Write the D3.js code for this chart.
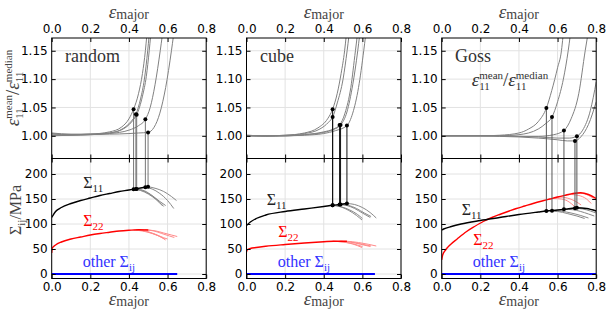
<!DOCTYPE html>
<html>
<head>
<meta charset="utf-8">
<script src="https://cdn.jsdelivr.net/npm/d3@7"></script>
<style>
  body { margin: 0; background: #fff; }
</style>
</head>
<body>
<div id="chart"></div>
<script>
// values
var panelNames = ["random", "cube", "Goss"];
var xTicks = [0, 0.2, 0.4, 0.6, 0.8];
var ratioTicks = [1.00, 1.05, 1.10, 1.15];
var stressTicks = [0, 50, 100, 150, 200];

// eps11 mean/median vs eps_major, one curve per sample
var ratioRandom = [
  [[0,1.004],[0.1,1.002],[0.2,1.003],[0.3,1.007],[0.36,1.015],[0.4,1.03],[0.424,1.047],[0.45,1.075],[0.47,1.11],[0.485,1.15],[0.492,1.175]],
  [[0,1.001],[0.1,1.001],[0.2,1.002],[0.3,1.005],[0.37,1.013],[0.41,1.025],[0.436,1.038],[0.46,1.065],[0.48,1.1],[0.497,1.15],[0.504,1.175]],
  [[0,1.003],[0.1,1.002],[0.2,1.003],[0.3,1.005],[0.38,1.014],[0.42,1.027],[0.44,1.037],[0.47,1.07],[0.49,1.105],[0.505,1.15],[0.512,1.175]],
  [[0,1.000],[0.1,1.001],[0.2,1.002],[0.3,1.004],[0.4,1.01],[0.45,1.018],[0.485,1.029],[0.51,1.05],[0.535,1.09],[0.562,1.15],[0.572,1.175]],
  [[0,1.005],[0.1,1.003],[0.2,1.003],[0.3,1.003],[0.4,1.004],[0.45,1.005],[0.499,1.006],[0.53,1.015],[0.56,1.04],[0.59,1.085],[0.62,1.15],[0.63,1.175]]
];
var ratioCube = [
  [[0,1.001],[0.1,1.0],[0.2,1.001],[0.3,1.005],[0.37,1.014],[0.42,1.03],[0.446,1.047],[0.47,1.075],[0.49,1.11],[0.508,1.15],[0.516,1.175]],
  [[0,1.001],[0.1,1.0],[0.2,1.001],[0.3,1.004],[0.38,1.012],[0.425,1.024],[0.446,1.033],[0.47,1.058],[0.5,1.1],[0.521,1.15],[0.53,1.175]],
  [[0,1.0],[0.1,1.0],[0.2,1.0],[0.3,1.002],[0.4,1.007],[0.45,1.012],[0.482,1.019],[0.51,1.04],[0.54,1.085],[0.564,1.15],[0.573,1.175]],
  [[0,1.0],[0.1,1.0],[0.2,1.0],[0.3,1.002],[0.4,1.006],[0.45,1.011],[0.487,1.019],[0.52,1.042],[0.55,1.09],[0.576,1.15],[0.585,1.175]],
  [[0,1.0],[0.1,0.999],[0.2,1.0],[0.3,1.001],[0.4,1.004],[0.46,1.009],[0.52,1.018],[0.55,1.04],[0.58,1.085],[0.607,1.15],[0.616,1.175]]
];
var ratioGoss = [
  [[0,1.0],[0.1,1.0],[0.2,1.0],[0.3,1.001],[0.4,1.005],[0.45,1.012],[0.5,1.025],[0.542,1.049],[0.57,1.08],[0.6,1.12],[0.62,1.15],[0.628,1.175]],
  [[0,1.0],[0.1,1.0],[0.2,1.0],[0.3,1.0],[0.4,1.002],[0.5,1.012],[0.54,1.022],[0.571,1.033],[0.6,1.06],[0.63,1.1],[0.655,1.15],[0.665,1.175]],
  [[0,1.0],[0.2,1.0],[0.3,1.0],[0.4,0.999],[0.5,0.999],[0.58,1.002],[0.633,1.0095],[0.67,1.03],[0.71,1.075],[0.743,1.15],[0.755,1.175]],
  [[0,1.0],[0.2,1.0],[0.3,0.999],[0.4,0.998],[0.5,0.996],[0.6,0.993],[0.65,0.991],[0.69,0.991],[0.72,0.998],[0.76,1.02],[0.8,1.06]],
  [[0,1.0],[0.2,1.0],[0.3,1.0],[0.4,0.999],[0.5,0.998],[0.6,0.996],[0.66,0.996],[0.7,0.9993],[0.73,1.01],[0.77,1.045],[0.8,1.095]]
];

// failure points (dots joined by the vertical lines)
var failEpsRandom = [0.424, 0.436, 0.44, 0.485, 0.499];
var failRatioRandom = [1.047, 1.038, 1.037, 1.029, 1.006];
var failStressRandom = [169.5, 170, 170, 173.5, 174.5];
var failEpsCube = [0.446, 0.446, 0.482, 0.487, 0.52];
var failRatioCube = [1.047, 1.033, 1.019, 1.019, 1.018];
var failStressCube = [137.5, 137.5, 139, 139, 141];
var failEpsGoss = [0.542, 0.571, 0.633, 0.69, 0.70];
var failRatioGoss = [1.049, 1.033, 1.0095, 0.991, 0.9993];
var failStressGoss = [126, 126.5, 129.5, 131.5, 132.5];

// Sigma_11 (MPa)
var s11Random = [[0,113],[0.02,125],[0.05,133],[0.1,141],[0.15,147],[0.2,152],[0.25,157],[0.3,161],[0.35,165],[0.4,168],[0.43,170],[0.46,172],[0.5,174.5]];
var s11BranchRandom = [
  [[0.424,169.5],[0.46,167],[0.5,160],[0.54,149],[0.575,136]],
  [[0.436,170],[0.47,167],[0.51,159],[0.55,147],[0.58,135]],
  [[0.44,170],[0.48,166.5],[0.52,157],[0.56,145],[0.59,137]],
  [[0.485,173.5],[0.52,170],[0.56,161],[0.6,147],[0.632,131]],
  [[0.499,174.5],[0.54,171],[0.58,165],[0.62,155],[0.646,147]]
];
var s11Cube = [[0,97],[0.02,104],[0.05,111],[0.1,118],[0.2,125],[0.3,130],[0.4,135],[0.446,137.5],[0.48,139],[0.52,141]];
var s11BranchCube = [
  [[0.446,137.5],[0.49,134],[0.53,127],[0.57,117],[0.598,108]],
  [[0.446,137.5],[0.49,134.5],[0.535,128],[0.575,119],[0.6,111]],
  [[0.482,139],[0.52,137],[0.56,131],[0.6,122],[0.641,113]],
  [[0.487,139],[0.53,137],[0.57,131],[0.61,122],[0.645,115]],
  [[0.52,141],[0.56,139],[0.6,133],[0.64,123],[0.672,112]]
];
var s11Goss = [[0,88],[0.01,90],[0.05,95],[0.1,100],[0.2,107],[0.3,113],[0.4,119],[0.5,124],[0.542,126],[0.6,128],[0.65,130],[0.7,132.5],[0.75,131],[0.8,126]];
var s11BranchGoss = [
  [[0.542,126],[0.6,125],[0.65,121],[0.7,116],[0.74,111]],
  [[0.571,126.5],[0.62,125.5],[0.67,122],[0.72,117],[0.76,112]],
  [[0.633,129.5],[0.68,128.5],[0.72,125],[0.76,120],[0.79,116]],
  [[0.69,131.5],[0.73,130],[0.77,126],[0.8,122]]
];

// Sigma_22 (MPa)
var s22Random = [[0,42],[0.003,52],[0.02,58],[0.05,64],[0.1,70],[0.15,74],[0.2,78],[0.25,81],[0.3,83.5],[0.35,86],[0.4,87.5],[0.45,88.5],[0.5,88]];
var s22BranchRandom = [
  [[0.424,88],[0.47,86],[0.52,81],[0.56,75],[0.585,70]],
  [[0.436,88.5],[0.48,86],[0.53,80],[0.57,73],[0.59,68]],
  [[0.44,88.5],[0.49,85.5],[0.54,79],[0.58,72.5],[0.6,70]],
  [[0.485,88.5],[0.53,86],[0.57,81],[0.61,76],[0.635,73]],
  [[0.499,88],[0.54,86],[0.58,82],[0.62,78],[0.65,75]]
];
var s22Cube = [[0,44],[0.003,48],[0.02,51],[0.05,53],[0.1,55.5],[0.2,59],[0.3,62],[0.4,64.5],[0.45,65.5],[0.52,65.5]];
var s22BranchCube = [
  [[0.446,65.5],[0.5,64],[0.55,60],[0.598,53]],
  [[0.446,65.5],[0.5,64],[0.55,60.5],[0.6,55]],
  [[0.482,65.5],[0.54,63.5],[0.59,59.5],[0.641,55]],
  [[0.487,65.5],[0.54,64],[0.6,59.5],[0.645,56]],
  [[0.52,65.5],[0.58,63],[0.63,59.5],[0.672,56]]
];
var s22Goss = [[0,28],[0.005,38],[0.02,48],[0.043,58],[0.08,70],[0.129,85],[0.17,95],[0.215,105],[0.26,113],[0.3,119],[0.35,126],[0.387,131],[0.43,136],[0.473,141],[0.52,146],[0.56,150],[0.6,154],[0.645,158],[0.68,161],[0.72,162.5],[0.76,159],[0.8,151]];
var s22BranchGoss = [
  [[0.542,148],[0.58,151],[0.62,150],[0.66,144],[0.688,135]],
  [[0.571,151],[0.61,154],[0.65,152],[0.69,146],[0.722,138]],
  [[0.633,157],[0.67,159],[0.71,157],[0.75,150],[0.774,141]],
  [[0.69,161.5],[0.73,161],[0.77,155],[0.8,148]]
];

// other Sigma_ij
var otherRandom = [[0,0],[0.65,0]];
var otherCube = [[0,0],[0.665,0]];
var otherGoss = [[0,0],[0.8,0]];

var panels = [
  {name: panelNames[0], ratio: ratioRandom, failEps: failEpsRandom, failRatio: failRatioRandom, failStress: failStressRandom,
   s11: s11Random, s11Branch: s11BranchRandom, s22: s22Random, s22Branch: s22BranchRandom, other: otherRandom},
  {name: panelNames[1], ratio: ratioCube, failEps: failEpsCube, failRatio: failRatioCube, failStress: failStressCube,
   s11: s11Cube, s11Branch: s11BranchCube, s22: s22Cube, s22Branch: s22BranchCube, other: otherCube},
  {name: panelNames[2], ratio: ratioGoss, failEps: failEpsGoss, failRatio: failRatioGoss, failStress: failStressGoss,
   s11: s11Goss, s11Branch: s11BranchGoss, s22: s22Goss, s22Branch: s22BranchGoss, other: otherGoss}
];

// layout
var panelLeft = [51.7, 246.5, 441.7], panelWidth = 154.5;
var topY = 38, midY = 158.5, botY = 278.5;
var dropColor = ["#777", "#111", "#555"];
var labelPos = [
  {tag: [13.3, 61.5], s11: [31.6, 188], s22: [31.6, 226], other: [31, 267]},
  {tag: [13.5, 61.5], s11: [20.2, 205], s22: [31.8, 237], other: [31.2, 267]},
  {tag: [13.3, 61.5], s11: [20, 215], s22: [31.6, 245], other: [31, 267]}
];
var sansFont = "'DejaVu Sans', sans-serif";
var serifFont = "'Liberation Serif', 'DejaVu Serif', serif";

var svg = d3.select("#chart").append("svg")
  .attr("width", 611)
  .attr("height", 319)
  .style("font-family", serifFont);

// lays out a bit of math text left to right; parts may stack a sup over a sub
function mathRow(parent, parts, anchor, color) {
  var g = parent.append("g").attr("fill", color || "#222");
  var cx = 0;
  parts.forEach(function(p) {
    var pieces = p.stack || [p];
    var w = 0;
    pieces.forEach(function(q) {
      var t = g.append("text")
        .attr("x", cx)
        .attr("y", q.dy || 0)
        .attr("font-size", q.size)
        .attr("font-style", q.italic ? "italic" : "normal")
        .text(q.t);
      w = Math.max(w, t.node().getComputedTextLength());
    });
    cx += w + (p.gap || 0);
  });
  if (anchor === "middle") g.selectAll("text").attr("transform", "translate(" + (-cx / 2) + ",0)");
  return g;
}

var epsMajor = [{t: "ε", size: 19, italic: true}, {t: "major", size: 14, dy: 1}];
var ratioLabel = [
  {t: "ε", size: 19, italic: true},
  {stack: [{t: "mean", size: 11, dy: -7}, {t: "11", size: 11, dy: 4}]},
  {t: "/", size: 19},
  {t: "ε", size: 19, italic: true},
  {stack: [{t: "median", size: 11, dy: -7}, {t: "11", size: 11, dy: 4}]}
];
function sigmaLabel(sub) { return [{t: "Σ", size: 16}, {t: sub, size: 11, dy: 4}]; }
var otherLabel = [{t: "other", size: 16, gap: 4}, {t: "Σ", size: 16}, {t: "ij", size: 11, dy: 4}];
var stressLabel = [{t: "Σ", size: 16}, {t: "ij", size: 11, dy: 4}, {t: "/MPa", size: 16}];

function styleAxis(a) {
  a.select(".domain").remove();
  a.selectAll(".tick line").attr("stroke", "#000");
  a.selectAll(".tick text").attr("font-family", sansFont).attr("font-size", 12).attr("fill", "#000");
}

panels.forEach(function(p, i) {
  var g = svg.append("g").attr("transform", "translate(" + panelLeft[i] + ",0)");
  var x = d3.scaleLinear().domain([0, 0.8]).range([0, panelWidth]);
  var yR = d3.scaleLinear().domain([0.96, 1.1725]).range([midY, topY]);
  var yS = d3.scaleLinear().domain([-9, 231]).range([botY, midY]);

  g.append("clipPath").attr("id", "clipT" + i).append("rect")
    .attr("x", 0).attr("y", topY).attr("width", panelWidth).attr("height", midY - topY);
  g.append("clipPath").attr("id", "clipB" + i).append("rect")
    .attr("x", 0).attr("y", midY).attr("width", panelWidth).attr("height", botY - midY);

  // grid
  var grid = g.append("g").attr("stroke", "#e2e2e2").attr("stroke-width", 1);
  xTicks.forEach(function(t) {
    grid.append("line").attr("x1", x(t)).attr("x2", x(t)).attr("y1", topY).attr("y2", botY);
  });
  ratioTicks.forEach(function(t) {
    grid.append("line").attr("x1", 0).attr("x2", panelWidth).attr("y1", yR(t)).attr("y2", yR(t));
  });
  stressTicks.forEach(function(t) {
    grid.append("line").attr("x1", 0).attr("x2", panelWidth).attr("y1", yS(t)).attr("y2", yS(t));
  });

  var lineR = d3.line().x(function(d) { return x(d[0]); }).y(function(d) { return yR(d[1]); }).curve(d3.curveMonotoneX);
  var lineS = d3.line().x(function(d) { return x(d[0]); }).y(function(d) { return yS(d[1]); }).curve(d3.curveMonotoneX);

  // bottom: stresses
  var bot = g.append("g").attr("clip-path", "url(#clipB" + i + ")").attr("fill", "none");
  bot.selectAll(".b22").data(p.s22Branch).enter().append("path")
    .attr("d", lineS).attr("stroke", "#ff8a8a").attr("stroke-width", 1);
  bot.selectAll(".b11").data(p.s11Branch).enter().append("path")
    .attr("d", lineS).attr("stroke", "#888").attr("stroke-width", 1);
  bot.append("path").attr("d", lineS(p.s22)).attr("stroke", "#f00").attr("stroke-width", 1.4);
  bot.append("path").attr("d", lineS(p.s11)).attr("stroke", "#000").attr("stroke-width", 1.4);
  bot.append("path").attr("d", lineS(p.other)).attr("stroke", "#00f").attr("stroke-width", 2);

  // top: strain ratio
  var top = g.append("g").attr("clip-path", "url(#clipT" + i + ")").attr("fill", "none");
  top.selectAll(".r").data(p.ratio).enter().append("path")
    .attr("d", lineR).attr("stroke", "#808080").attr("stroke-width", 1);

  // failure markers joined across both plots
  var fails = p.failEps.map(function(e, k) { return {e: e, r: p.failRatio[k], s: p.failStress[k]}; });
  g.selectAll(".drop").data(fails).enter().append("line")
    .attr("x1", function(d) { return x(d.e); }).attr("x2", function(d) { return x(d.e); })
    .attr("y1", function(d) { return yR(d.r); }).attr("y2", function(d) { return yS(d.s); })
    .attr("stroke", dropColor[i]).attr("stroke-width", 1);
  g.selectAll(".dotR").data(fails).enter().append("circle")
    .attr("cx", function(d) { return x(d.e); }).attr("cy", function(d) { return yR(d.r); })
    .attr("r", 2).attr("fill", "#000");
  g.selectAll(".dotS").data(fails).enter().append("circle")
    .attr("cx", function(d) { return x(d.e); }).attr("cy", function(d) { return yS(d.s); })
    .attr("r", 2).attr("fill", "#000");

  // frames
  g.append("rect").attr("x", 0).attr("y", topY).attr("width", panelWidth).attr("height", midY - topY)
    .attr("fill", "none").attr("stroke", "#000").attr("stroke-width", 1);
  g.append("rect").attr("x", 0).attr("y", midY).attr("width", panelWidth).attr("height", botY - midY)
    .attr("fill", "none").attr("stroke", "#000").attr("stroke-width", 1);

  // axes, ticks pointing inwards
  var fmtX = d3.format(".1f"), fmtR = d3.format(".2f"), fmtS = d3.format("d");
  g.append("g").attr("transform", "translate(0," + topY + ")")
    .call(d3.axisTop(x).tickValues(xTicks).tickFormat(fmtX).tickSizeInner(-4).tickSizeOuter(0).tickPadding(5)).call(styleAxis);
  g.append("g").attr("transform", "translate(0," + midY + ")")
    .call(d3.axisBottom(x).tickValues(xTicks).tickFormat("").tickSizeInner(-4).tickSizeOuter(0)).call(styleAxis);
  g.append("g").attr("transform", "translate(0," + midY + ")")
    .call(d3.axisTop(x).tickValues(xTicks).tickFormat("").tickSizeInner(-4).tickSizeOuter(0)).call(styleAxis);
  g.append("g").attr("transform", "translate(0," + botY + ")")
    .call(d3.axisBottom(x).tickValues(xTicks).tickFormat(fmtX).tickSizeInner(-4).tickSizeOuter(0).tickPadding(4)).call(styleAxis);
  g.append("g")
    .call(d3.axisLeft(yR).tickValues(ratioTicks).tickFormat(fmtR).tickSizeInner(-4).tickSizeOuter(0).tickPadding(4)).call(styleAxis);
  g.append("g").attr("transform", "translate(" + panelWidth + ",0)")
    .call(d3.axisRight(yR).tickValues(ratioTicks).tickFormat("").tickSizeInner(-4).tickSizeOuter(0)).call(styleAxis);
  g.append("g")
    .call(d3.axisLeft(yS).tickValues(stressTicks).tickFormat(fmtS).tickSizeInner(-4).tickSizeOuter(0).tickPadding(4)).call(styleAxis);
  g.append("g").attr("transform", "translate(" + panelWidth + ",0)")
    .call(d3.axisRight(yS).tickValues(stressTicks).tickFormat("").tickSizeInner(-4).tickSizeOuter(0)).call(styleAxis);

  // x labels top and bottom
  mathRow(g.append("g").attr("transform", "translate(" + (panelWidth / 2) + ",18)"), epsMajor, "middle", "#444");
  mathRow(g.append("g").attr("transform", "translate(" + (panelWidth / 2) + ",305)"), epsMajor, "middle", "#444");

  // in-plot labels
  var lp = labelPos[i];
  g.append("text").attr("x", lp.tag[0]).attr("y", lp.tag[1]).attr("font-size", 18).attr("fill", "#333").text(p.name);
  mathRow(g.append("g").attr("transform", "translate(" + lp.s11 + ")"), sigmaLabel("11"), "start", "#222");
  mathRow(g.append("g").attr("transform", "translate(" + lp.s22 + ")"), sigmaLabel("22"), "start", "#f00");
  mathRow(g.append("g").attr("transform", "translate(" + lp.other + ")"), otherLabel, "start", "#33f");
  if (i === 2) {
    mathRow(g.append("g").attr("transform", "translate(30,86)"), ratioLabel, "start", "#333");
  }
});

// y labels on the first panel
mathRow(svg.append("g").attr("transform", "translate(19,88) rotate(-90)"), ratioLabel, "middle", "#444");
mathRow(svg.append("g").attr("transform", "translate(21,210) rotate(-90)"), stressLabel, "middle", "#444");
</script>
</body>
</html>
